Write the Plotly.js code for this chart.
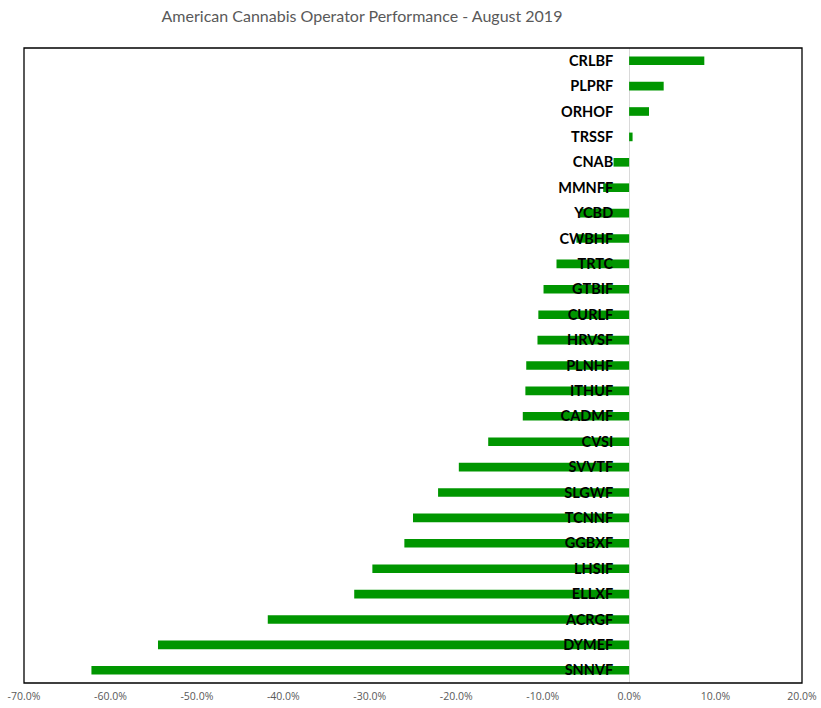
<!DOCTYPE html>
<html><head><meta charset="utf-8">
<script src="https://cdn.plot.ly/plotly-3.0.1.min.js"></script>
<style>html,body{margin:0;padding:0;background:#fff}</style>
</head><body>
<div id="chart" style="width:821px;height:708px"></div>
<script>
const tickers = ["CRLBF","PLPRF","ORHOF","TRSSF","CNAB","MMNFF","YCBD","CWBHF","TRTC","GTBIF","CURLF","HRVSF","PLNHF","ITHUF","CADMF","CVSI","SVVTF","SLGWF","TCNNF","GGBXF","LHSIF","ELLXF","ACRGF","DYMEF","SNNVF"];
const performance = [8.7,4.0,2.3,0.4,-1.8,-3.0,-5.7,-6.1,-8.4,-9.9,-10.5,-10.6,-11.9,-12.0,-12.3,-16.3,-19.7,-22.1,-25.0,-26.0,-29.7,-31.8,-41.8,-54.5,-62.2];
const xTickVals = [-70,-60,-50,-40,-30,-20,-10,0,10,20];
const xTickText = ["-70.0%","-60.0%","-50.0%","-40.0%","-30.0%","-20.0%","-10.0%","0.0%","10.0%","20.0%"];
const xMin = -70, xMax = 20;

const trace = {
  type: 'bar', orientation: 'h',
  x: performance, y: tickers,
  marker: {color: '#009600'},
  hoverinfo: 'x+y'
};
const layout = {
  width: 821, height: 708,
  margin: {l: 24, r: 19, t: 48, b: 25},
  paper_bgcolor: '#fff', plot_bgcolor: '#fff',
  showlegend: false,
  bargap: 0.66,
  title: {text: 'American Cannabis Operator Performance - August 2019',
          font: {family: 'Lato, sans-serif', size: 16, color: '#595959'},
          x: 362/821, xref: 'container', xanchor: 'center', y: 1 - 16/708, yref: 'container', yanchor: 'middle'},
  xaxis: {
    range: [xMin, xMax], domain: [0, 1],
    tickmode: 'array', tickvals: xTickVals, ticktext: xTickText,
    tickfont: {family: '"Open Sans", sans-serif', size: 10.5, color: '#595959'},
    ticklabelstandoff: 5,
    showgrid: false, zeroline: true, zerolinecolor: '#d9d9d9', zerolinewidth: 1,
    showline: false, ticks: '', fixedrange: true
  },
  yaxis: {
    type: 'category', autorange: 'reversed',
    anchor: 'free', position: (0 - xMin) / (xMax - xMin),
    showline: false, showgrid: false, zeroline: false,
    ticks: 'outside', ticklen: 13, tickcolor: 'rgba(0,0,0,0)',
    tickfont: {family: 'Lato, sans-serif', size: 14.5, color: '#000', weight: 'bold'},
    fixedrange: true
  },
  shapes: [{type: 'rect', xref: 'paper', yref: 'paper', x0: 0, x1: 1, y0: 0, y1: 1,
            line: {color: '#000', width: 1.3}, fillcolor: 'rgba(0,0,0,0)', layer: 'above'}]
};
Plotly.newPlot('chart', [trace], layout, {displayModeBar: false, staticPlot: true});
</script>
</body></html>
